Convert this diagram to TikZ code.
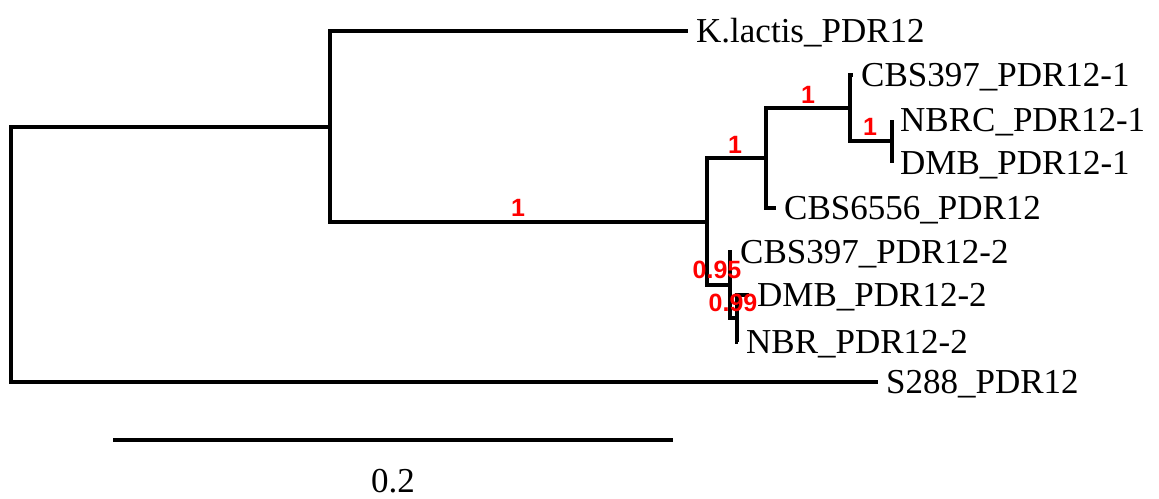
\documentclass[tikz,border=0pt]{standalone}
\usepackage{fontspec}
\setmainfont{Liberation Serif}
\newfontfamily\lblfont{Liberation Sans}
\begin{document}
\begin{tikzpicture}[x=1pt,y=-1pt,
  edge/.style={line width=3.5pt,black,line join=miter},
  tip/.style={anchor=west,inner xsep=8pt,inner ysep=0pt,text height=23pt,text depth=0pt,font=\fontsize{35}{42}\selectfont},
  supp/.style={text=red,inner sep=0pt,font=\lblfont\bfseries\fontsize{25}{30}\selectfont}]
\useasboundingbox (0,0) rectangle (1159,498);
% internal nodes
\coordinate (root) at (11,255);
\coordinate (A) at (330,127);
\coordinate (B) at (707,222);
\coordinate (C) at (766,158);
\coordinate (E) at (850,108);
\coordinate (F) at (892,141);
\coordinate (D) at (730,285);
\coordinate (G) at (737,318);
% tips
\node[tip] (klac) at (688,31) {K.lactis\_PDR12};
\node[tip] (cbs1) at (853,75) {CBS397\_PDR12-1};
\node[tip] (nbrc1) at (892,120) {NBRC\_PDR12-1};
\node[tip] (dmb1) at (892,163) {DMB\_PDR12-1};
\node[tip] (cbs6556) at (776,208) {CBS6556\_PDR12};
\node[tip] (cbs2) at (732,252) {CBS397\_PDR12-2};
\node[tip] (dmb2) at (749,295) {DMB\_PDR12-2};
\node[tip] (nbr2) at (738,342) {NBR\_PDR12-2};
\node[tip] (s288) at (878,382) {S288\_PDR12};
% edges
\draw[edge] (root) |- (A);
\draw[edge] (root) |- (s288);
\draw[edge] (A) |- (klac);
\draw[edge] (A) |- (B);
\draw[edge] (B) |- (C);
\draw[edge] (B) |- (D);
\draw[edge] (C) |- (E);
\draw[edge] (C) |- (cbs6556);
\draw[edge] (E) |- (cbs1);
\draw[edge] (E) |- (F);
\draw[edge] (F) |- (nbrc1);
\draw[edge] (F) |- (dmb1);
\draw[edge] (D) |- (cbs2);
\draw[edge] (D) |- (G);
\draw[edge] (G) |- (dmb2);
\draw[edge] (G) |- (nbr2);
% support values
\node[supp] (s1) at (518,208) {1};
\node[supp] (s2) at (735,145) {1};
\node[supp] (s3) at (808,95) {1};
\node[supp] (s4) at (870,127) {1};
\node[supp] (s5) at (717,270) {0.95};
\node[supp] (s6) at (733,303) {0.99};
% scale bar
\coordinate (sbl) at (113,440);
\coordinate (sbr) at (673,440);
\draw[edge] (sbl) -- (sbr);
\node[font=\fontsize{35}{42}\selectfont,inner sep=0pt] (sblab) at (393,481) {0.2};
\end{tikzpicture}
\end{document}
